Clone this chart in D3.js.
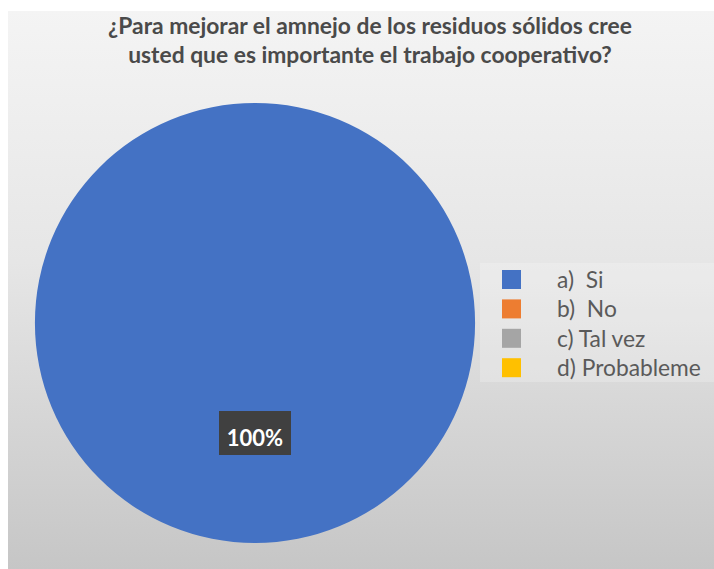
<!DOCTYPE html>
<html>
<head>
<meta charset="utf-8">
<script src="https://cdn.jsdelivr.net/npm/d3@7"></script>
<style>
  html, body { margin: 0; padding: 0; background: #ffffff; }
  svg { display: block; }
</style>
</head>
<body>
<svg id="chart" width="714" height="569"></svg>
<script>
const titleLines = [
  "¿Para mejorar el amnejo de los residuos sólidos cree",
  "usted que es importante el trabajo cooperativo?"
];
const categories = ["a)  Si", "b)  No", "c) Tal vez", "d) Probableme"];
const values = [100, 0, 0, 0];
const colors = ["#4472c4", "#ed7d31", "#a5a5a5", "#ffc000"];
const dataLabels = ["100%"];

const W = 714, H = 569;
const svg = d3.select("#chart");
const font = "Lato, 'Open Sans', sans-serif";

// background with vertical gradient
const defs = svg.append("defs");
const grad = defs.append("linearGradient").attr("id", "bg")
  .attr("x1", 0).attr("y1", 0).attr("x2", 0).attr("y2", 1);
grad.append("stop").attr("offset", "0%").attr("stop-color", "#f4f4f4");
grad.append("stop").attr("offset", "45%").attr("stop-color", "#e6e6e6");
grad.append("stop").attr("offset", "100%").attr("stop-color", "#c6c6c6");
svg.append("rect").attr("x", 8).attr("y", 11).attr("width", W - 8).attr("height", H - 11)
  .attr("fill", "url(#bg)");

// title
const title = svg.append("g");
const baselines = [34, 63];
const titleTexts = titleLines.map((t, i) => title.append("text")
  .attr("x", 370).attr("y", baselines[i])
  .attr("text-anchor", "middle")
  .attr("font-family", font).attr("font-weight", 700)
  .attr("font-size", 18).attr("fill", "#4a4a4a")
  .text(t));
const tw = titleTexts[0].node().getComputedTextLength();
title.selectAll("text").attr("font-size", 18 * 524 / tw);

// pie
const cx = 255, cy = 323, r = 220;
const pie = d3.pie().sort(null).value(d => d.v);
const pdata = pie(categories.map((c, i) => ({ c, v: values[i], col: colors[i] })));
const arc = d3.arc().innerRadius(0).outerRadius(r);
const pg = svg.append("g").attr("transform", `translate(${cx},${cy})`);
pg.selectAll("path").data(pdata.filter(d => d.data.v > 0)).join("path")
  .attr("d", arc).attr("fill", d => d.data.col);

// data label
pdata.filter(d => d.data.v > 0).forEach((d, i) => {
  const [lx, ly] = arc.centroid(d);
  const lg = pg.append("g").attr("transform", `translate(${lx},${ly})`);
  lg.append("rect").attr("fill", "#404040")
    .attr("x", -36).attr("y", -22).attr("width", 72).attr("height", 44);
  lg.append("text")
    .attr("y", 4)
    .attr("text-anchor", "middle").attr("dominant-baseline", "central")
    .attr("font-family", font).attr("font-weight", 700)
    .attr("font-size", 22).attr("fill", "#ffffff")
    .text(dataLabels[i]);
});

// legend
const legX = 502, legY0 = 279.5, legStep = 29.4, sq = 19;
svg.append("rect").attr("x", 480).attr("y", 263).attr("width", W - 480).attr("height", 119)
  .attr("fill", "#ffffff").attr("opacity", 0.22);
const lg = svg.append("g");
const items = lg.selectAll("g").data(categories).join("g")
  .attr("transform", (d, i) => `translate(${legX},${legY0 + i * legStep})`);
items.append("rect").attr("x", 0).attr("y", -sq / 2).attr("width", sq).attr("height", sq)
  .attr("fill", (d, i) => colors[i]);
items.append("text").attr("x", 55).attr("y", 0)
  .attr("dominant-baseline", "central")
  .attr("font-family", font).attr("font-size", 17).attr("fill", "#5a5a5a")
  .style("white-space", "pre")
  .text(d => d);
const longest = items.selectAll("text").nodes()[3];
const lw = longest.getComputedTextLength();
items.selectAll("text").attr("font-size", 17 * 144 / lw);
</script>
</body>
</html>
